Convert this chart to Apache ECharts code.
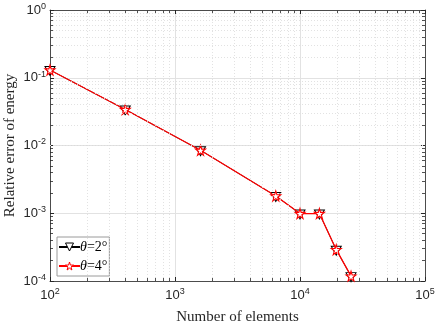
<!DOCTYPE html>
<html>
<head>
<meta charset="utf-8">
<script src="https://cdn.jsdelivr.net/npm/echarts@6/dist/echarts.min.js"></script>
<style>
html,body{margin:0;padding:0;background:#fff;}
#chart{width:436px;height:327px;}
</style>
</head>
<body>
<div id="chart"></div>
<script>
// data
var elements = [100, 400, 1600, 6400, 10000, 14300, 19500, 25600];
var errTheta2 = [0.13, 0.034, 0.0085, 0.0018, 0.00099, 0.00099, 0.00029, 0.000118];
var errTheta4 = [0.13, 0.034, 0.0085, 0.0018, 0.00099, 0.00099, 0.00029, 0.000118];
var seriesNames = ['θ=2°', 'θ=4°'];
var xDecades = [100, 1000, 10000];
var yDecades = [0.0001, 0.001, 0.01, 0.1];
var minorMult = [2, 3, 4, 5, 6, 7, 8, 9];

var axisColor = '#262626';
var X_MIN = 100, X_MAX = 100000, Y_MIN = 0.0001, Y_MAX = 1;
// tick length in data units (log space): ~3px
var fy = Math.pow(10, 3 / 67.7);
var fx = Math.pow(10, 3 / 125);

var triPath = 'path://M0,0 L10,0 L5,9 Z';
var starPath = 'path://M50,0 L61,35 L98,35 L68,57 L79,91 L50,70 L21,91 L32,57 L2,35 L39,35 Z';

function pairs(a, b) {
	return a.map(function(v, i) { return [v, b[i]]; });
}

function supLabel(v) {
	var e = Math.round(Math.log10(v));
	return '10{s|' + e + '}';
}

// minor grid + minor ticks
var minorLines = [];
var minorTicks = [];
xDecades.forEach(function(d) {
	minorMult.forEach(function(m) {
		var v = d * m;
		minorLines.push({ xAxis: v });
		minorTicks.push([{ coord: [v, Y_MIN] }, { coord: [v, Y_MIN * fy] }]);
		minorTicks.push([{ coord: [v, Y_MAX] }, { coord: [v, Y_MAX / fy] }]);
	});
});
yDecades.forEach(function(d) {
	minorMult.forEach(function(m) {
		var v = d * m;
		minorLines.push({ yAxis: v });
		minorTicks.push([{ coord: [X_MIN, v] }, { coord: [X_MIN * fx, v] }]);
		minorTicks.push([{ coord: [X_MAX, v] }, { coord: [X_MAX / fx, v] }]);
	});
});

var labelRich = {
	s: { fontSize: 9, verticalAlign: 'bottom', padding: [0, 0, 7, 0], fontFamily: 'Liberation Sans', color: axisColor }
};

var chart = echarts.init(document.getElementById('chart'), null, { renderer: 'canvas' });

var option = {
	backgroundColor: '#fff',
	animation: false,
	grid: { left: 50, right: 11, top: 10, bottom: 46, containLabel: false, outerBoundsMode: 'none' },
	legend: {
		left: 57, top: 237,
		orient: 'vertical',
		backgroundColor: '#fff',
		borderColor: '#9a9a9a',
		borderWidth: 1,
		borderRadius: 0,
		padding: [3, 2, 3, 1],
		itemGap: 5,
		itemWidth: 21,
		itemHeight: 10,
		data: [
			{ name: seriesNames[0], itemStyle: { color: '#fff', borderColor: '#000', borderWidth: 1 } },
			{ name: seriesNames[1], itemStyle: { color: '#fff', borderColor: '#ff0000', borderWidth: 1 } }
		],
		formatter: function(n) {
			return '{i|θ}{n|' + n.slice(1) + '}';
		},
		textStyle: {
			padding: [0, 0, 0, -5],
			rich: {
				i: { fontFamily: 'Liberation Serif', fontStyle: 'italic', fontSize: 14, color: '#000' },
				n: { fontFamily: 'Liberation Serif', fontSize: 14, color: '#000' }
			}
		}
	},
	xAxis: [{
		type: 'log', logBase: 10, min: X_MIN, max: X_MAX,
		name: 'Number of elements', nameLocation: 'middle', nameGap: 29, nameMoveOverlap: false,
		nameTextStyle: { fontFamily: 'Liberation Serif', fontSize: 15, color: axisColor },
		axisLine: { lineStyle: { color: axisColor, width: 0.8 } },
		axisTick: { inside: true, length: 4, lineStyle: { color: axisColor } },
		axisLabel: { formatter: supLabel, fontFamily: 'Liberation Sans', fontSize: 13, color: axisColor, margin: 6, rich: labelRich },
		splitLine: { show: true, lineStyle: { color: '#e2e2e2', width: 1 } }
	}, {
		type: 'log', logBase: 10, min: X_MIN, max: X_MAX, position: 'top',
		axisLine: { lineStyle: { color: axisColor, width: 0.8 } },
		axisTick: { inside: true, length: 4, lineStyle: { color: axisColor } },
		axisLabel: { show: false }, splitLine: { show: false }
	}],
	yAxis: [{
		type: 'log', logBase: 10, min: Y_MIN, max: Y_MAX,
		name: 'Relative error of energy', nameLocation: 'middle', nameGap: 32, nameMoveOverlap: false,
		nameTextStyle: { fontFamily: 'Liberation Serif', fontSize: 15, color: axisColor },
		axisLine: { lineStyle: { color: axisColor, width: 0.8 } },
		axisTick: { inside: true, length: 4, lineStyle: { color: axisColor } },
		axisLabel: { formatter: supLabel, fontFamily: 'Liberation Sans', fontSize: 13, color: axisColor, margin: 4, rich: labelRich },
		splitLine: { show: true, lineStyle: { color: '#e2e2e2', width: 1 } }
	}, {
		type: 'log', logBase: 10, min: Y_MIN, max: Y_MAX, position: 'right',
		axisLine: { lineStyle: { color: axisColor, width: 0.8 } },
		axisTick: { inside: true, length: 4, lineStyle: { color: axisColor } },
		axisLabel: { show: false }, splitLine: { show: false }
	}],
	series: [{
		// minor gridlines and ticks
		type: 'line', data: [], silent: true,
		markLine: {
			silent: true, symbol: 'none', label: { show: false }, animation: false,
			lineStyle: { color: '#dadada', type: [1, 2], width: 0.8 },
			data: minorLines
		}
	}, {
		type: 'line', data: [], silent: true,
		markLine: {
			silent: true, symbol: 'none', label: { show: false }, animation: false,
			lineStyle: { color: axisColor, type: 'solid', width: 0.8 },
			data: minorTicks
		}
	}, {
		name: seriesNames[0],
		type: 'line',
		data: pairs(elements, errTheta2),
		symbol: triPath,
		symbolSize: [10, 9],
		symbolOffset: [0, 1],
		lineStyle: { color: '#000', width: 0.8 },
		itemStyle: { color: '#fff', borderColor: '#000', borderWidth: 1 },
		z: 3
	}, {
		name: seriesNames[1],
		type: 'line',
		data: pairs(elements, errTheta4),
		symbol: starPath,
		symbolSize: 10,
		lineStyle: { color: '#ff0000', width: 1.3 },
		itemStyle: { color: '#fff', borderColor: '#ff0000', borderWidth: 1.1 },
		z: 4
	}]
};
chart.setOption(option);
</script>
</body>
</html>
